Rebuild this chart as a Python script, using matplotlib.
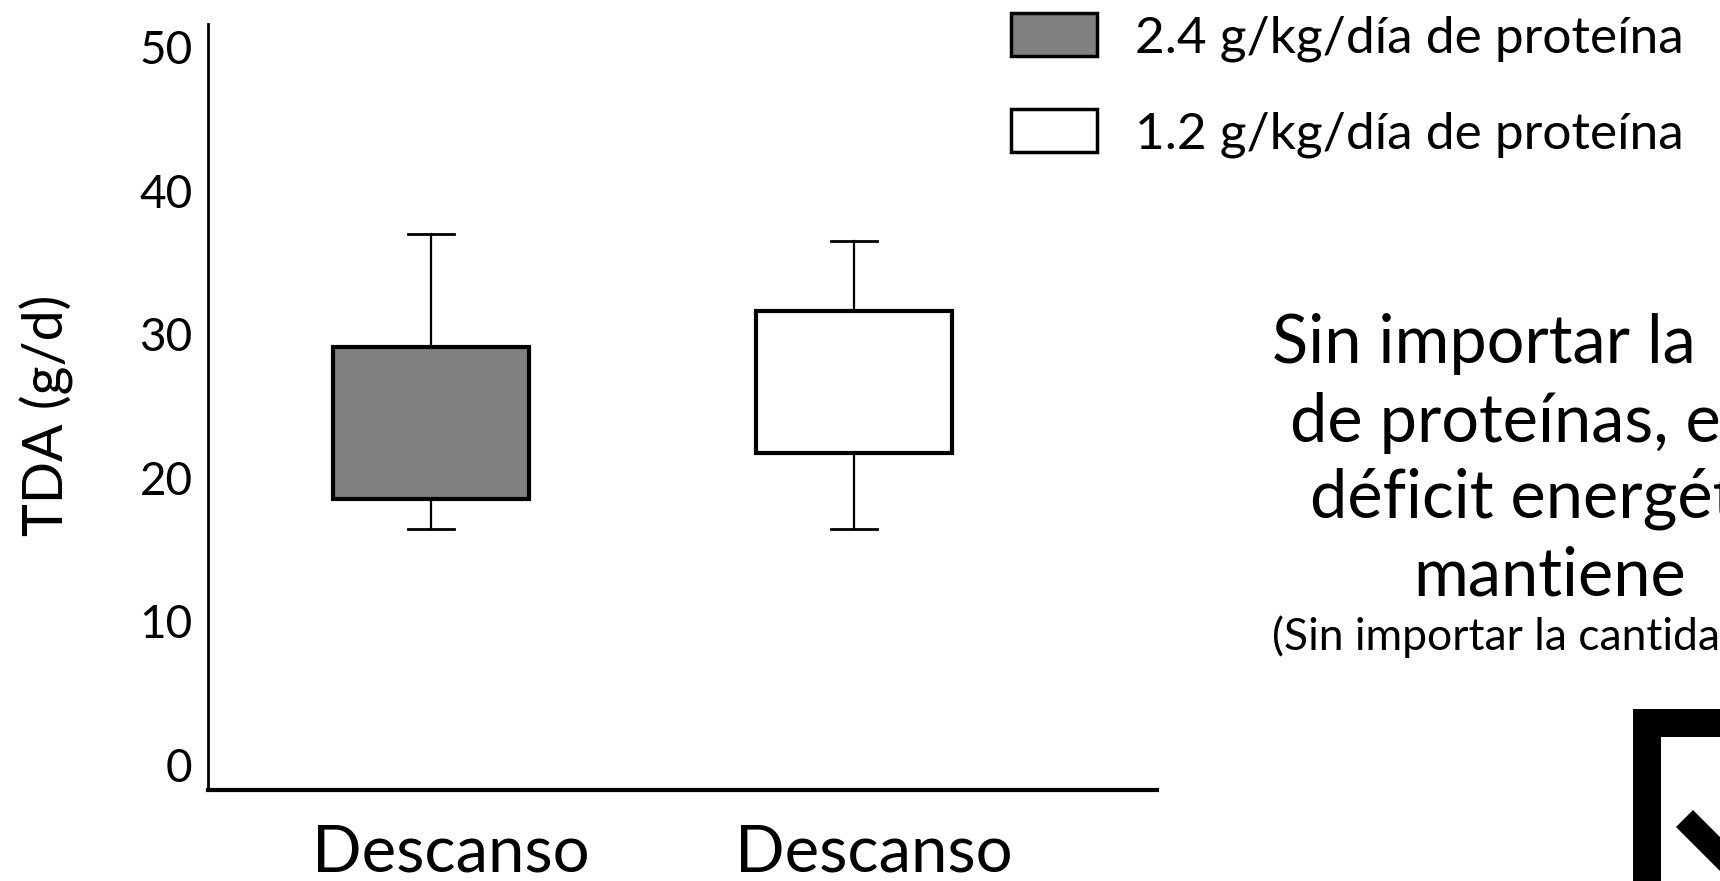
import numpy as np
import matplotlib
matplotlib.use("Agg")
import matplotlib.pyplot as plt
from matplotlib.patches import Patch, Polygon, Rectangle
from matplotlib.transforms import ScaledTranslation

plt.rcParams["font.family"] = ["Lato", "DejaVu Sans"]

# data
groups = ["Descanso", "Descanso"]
series = ["2.4 g/kg/día de proteína", "1.2 g/kg/día de proteína"]
fills = ["#808080", "#ffffff"]
q1 = [18.5, 21.7]
q3 = [29.1, 31.6]
whislo = [16.4, 16.4]
whishi = [37.0, 36.5]
yticks = [0, 10, 20, 30, 40, 50]

note_lines = ["Sin importar la", "de proteínas, el", "déficit energético", "mantiene"]
note_small = "(Sin importar la cantidad de proteína)"

W, H = 1720, 881
fig = plt.figure(figsize=(W / 100, H / 100), dpi=100)
ax = fig.add_axes([208 / W, 91 / H, 949 / W, 766 / H])

stats = []
for i in range(len(groups)):
    stats.append(dict(med=q1[i], q1=q1[i], q3=q3[i], whislo=whislo[i],
                      whishi=whishi[i], fliers=[]))

pos = [1, 2]
bp = ax.bxp(stats, positions=pos, widths=0.463, capwidths=0.109,
            patch_artist=True, showfliers=False,
            boxprops=dict(linewidth=3, edgecolor="black"),
            whiskerprops=dict(linewidth=1.6, color="black"),
            capprops=dict(linewidth=2, color="black"),
            medianprops=dict(linewidth=0))
for box, c in zip(bp["boxes"], fills):
    box.set_facecolor(c)

ax.set_xlim(0.473, 2.716)
ax.set_ylim(-1.74, 51.6)
ax.set_yticks(yticks)
ax.set_yticklabels([str(t) for t in yticks], fontsize=33)
ax.set_xticks(pos)
ax.set_xticklabels(groups, fontsize=47)
ax.tick_params(axis="y", length=0, pad=11)
ax.tick_params(axis="x", length=0, pad=24)
for lab in ax.get_xticklabels():
    lab.set_transform(lab.get_transform() + ScaledTranslation(0.2, 0, fig.dpi_scale_trans))

for s in ["top", "right"]:
    ax.spines[s].set_visible(False)
ax.spines["left"].set_linewidth(2)
ax.spines["bottom"].set_linewidth(3)

ax.set_ylabel("TDA (g/d)", fontsize=40, va="center")
ax.yaxis.set_label_coords((47 - 208) / 949, (790 - 415) / 766)

handles = [Patch(facecolor=c, edgecolor="black", linewidth=2.5) for c in fills]
fig.legend(handles, series, loc="upper left",
           bbox_to_anchor=(1011 / W, 1 - 13 / H), fontsize=37, frameon=False,
           borderpad=0, borderaxespad=0, handlelength=1.67, handleheight=0.9,
           handletextpad=0.74, labelspacing=0.93)

# note on the right, cut by the edge of the picture as in the original
xs = [1272, 1290, 1310, 1413]
ys = [363, 442, 518, 595]
for t, x, y in zip(note_lines, xs, ys):
    fig.text(x / W, 1 - y / H, t, fontsize=48, ha="left", va="baseline")
fig.text(1272 / W, 1 - 650 / H, note_small, fontsize=32, ha="left", va="baseline")

# logo fragment in the lower right corner
tr = fig.dpi_scale_trans
def px(x, y):
    return (x / 100, (H - y) / 100)

fig.add_artist(Rectangle(px(1633, 900), 0.28, (900 - 709) / 100,
                         transform=tr, color="black", lw=0))
fig.add_artist(Rectangle(px(1633, 737), 1.0, 0.28, transform=tr, color="black", lw=0))
d = 200 / np.sqrt(2)
fig.add_artist(Polygon([px(1693, 810), px(1676, 827), px(1676 + d, 827 + d),
                        px(1693 + d, 810 + d)], closed=True, transform=tr,
                       color="black", lw=0))

fig.savefig("out.png", dpi=100)
